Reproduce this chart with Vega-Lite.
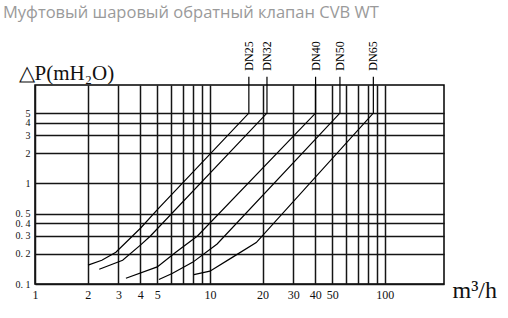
{
  "$schema": "https://vega.github.io/schema/vega-lite/v6.json",
  "width": 409,
  "height": 199,
  "autosize": {"type": "none"},
  "padding": {"left": 35, "top": 85, "right": 64, "bottom": 34},
  "background": "white",
  "title": {
    "text": "Муфтовый шаровый обратный клапан CVB WT",
    "anchor": "start",
    "frame": "group",
    "dx": -32,
    "offset": 7,
    "baseline": "alphabetic",
    "font": "Open Sans",
    "fontSize": 16.5,
    "fontWeight": "normal",
    "color": "#9a9a9a"
  },
  "config": {
    "view": {"stroke": "#000", "strokeWidth": 1.5},
    "axis": {
      "labelFont": "Liberation Serif",
      "labelFontSize": 10,
      "labelColor": "#111",
      "titleFont": "Liberation Serif",
      "titleFontWeight": "normal",
      "titleColor": "#111",
      "grid": true,
      "gridColor": "#151515",
      "gridWidth": 1.5,
      "gridOpacity": 1,
      "ticks": false,
      "domain": false,
      "labelOverlap": false,
      "labelFlush": false,
      "labelBound": false
    }
  },
  "datasets": {
    "curves": [
      {"series": "DN25", "i": 1, "q": 2.01, "dp": 0.154},
      {"series": "DN25", "i": 2, "q": 2.41, "dp": 0.172},
      {"series": "DN25", "i": 3, "q": 2.9, "dp": 0.207},
      {"series": "DN25", "i": 4, "q": 3.61, "dp": 0.3},
      {"series": "DN25", "i": 5, "q": 4.02, "dp": 0.36},
      {"series": "DN25", "i": 6, "q": 5.07, "dp": 0.56},
      {"series": "DN25", "i": 7, "q": 16.7, "dp": 5},
      {"series": "DN25", "i": 8, "q": 16.7, "dp": 11.5},
      {"series": "DN32", "i": 1, "q": 2.33, "dp": 0.14},
      {"series": "DN32", "i": 2, "q": 3.17, "dp": 0.172},
      {"series": "DN32", "i": 3, "q": 4.02, "dp": 0.245},
      {"series": "DN32", "i": 4, "q": 4.57, "dp": 0.3},
      {"series": "DN32", "i": 5, "q": 21.2, "dp": 5},
      {"series": "DN32", "i": 6, "q": 21.2, "dp": 11.5},
      {"series": "DN40", "i": 1, "q": 3.31, "dp": 0.114},
      {"series": "DN40", "i": 2, "q": 5.0, "dp": 0.148},
      {"series": "DN40", "i": 3, "q": 6.38, "dp": 0.207},
      {"series": "DN40", "i": 4, "q": 8.49, "dp": 0.3},
      {"series": "DN40", "i": 5, "q": 40.2, "dp": 5},
      {"series": "DN40", "i": 6, "q": 40.2, "dp": 11.5},
      {"series": "DN50", "i": 1, "q": 5.11, "dp": 0.111},
      {"series": "DN50", "i": 2, "q": 6.08, "dp": 0.127},
      {"series": "DN50", "i": 3, "q": 8.0, "dp": 0.165},
      {"series": "DN50", "i": 4, "q": 11.0, "dp": 0.25},
      {"series": "DN50", "i": 5, "q": 55.4, "dp": 5},
      {"series": "DN50", "i": 6, "q": 55.4, "dp": 11.5},
      {"series": "DN65", "i": 1, "q": 8.1, "dp": 0.124},
      {"series": "DN65", "i": 2, "q": 10.0, "dp": 0.134},
      {"series": "DN65", "i": 3, "q": 13.5, "dp": 0.185},
      {"series": "DN65", "i": 4, "q": 18.4, "dp": 0.258},
      {"series": "DN65", "i": 5, "q": 86.0, "dp": 5},
      {"series": "DN65", "i": 6, "q": 86.0, "dp": 11.5}
    ],
    "labels": [
      {"series": "DN25", "q": 16.7, "dp": 11.5},
      {"series": "DN32", "q": 21.2, "dp": 11.5},
      {"series": "DN40", "q": 40.2, "dp": 11.5},
      {"series": "DN50", "q": 55.4, "dp": 11.5},
      {"series": "DN65", "q": 86.0, "dp": 11.5}
    ]
  },
  "layer": [
    {
      "data": {"name": "curves"},
      "mark": {"type": "line", "color": "#000", "strokeWidth": 1.2},
      "encoding": {
        "x": {
          "field": "q",
          "type": "quantitative",
          "scale": {"type": "log", "domain": [1, 218], "nice": false},
          "axis": {
            "values": [1, 2, 3, 4, 5, 6, 7, 8, 9, 10, 20, 30, 40, 50, 60, 70, 80, 90, 100],
            "format": "~g",
            "labelExpr": "indexof([1, 2, 3, 4, 5, 10, 20, 30, 40, 50, 100], datum.value) >= 0 ? datum.label : ''",
            "labelPadding": 5,
            "labelFontSize": 12,
            "title": "m³/h",
            "titleFontSize": 24,
            "titleAlign": "left",
            "titleBaseline": "alphabetic",
            "titleX": 417,
            "titleY": 13
          }
        },
        "y": {
          "field": "dp",
          "type": "quantitative",
          "scale": {"type": "log", "domain": [0.1, 9.5], "nice": false},
          "axis": {
            "values": [0.1, 0.2, 0.3, 0.4, 0.5, 1, 2, 3, 4, 5],
            "format": "~g",
            "labelExpr": "replace(datum.label, '.', '. ')",
            "labelPadding": 5,
            "title": "△P(mH₂O)",
            "titleFontSize": 21,
            "titleAngle": 0,
            "titleAlign": "left",
            "titleBaseline": "alphabetic",
            "titleX": -17,
            "titleY": -6
          }
        },
        "detail": {"field": "series"},
        "order": {"field": "i"}
      }
    },
    {
      "data": {"name": "labels"},
      "mark": {
        "type": "text",
        "angle": 270,
        "align": "left",
        "baseline": "middle",
        "dx": 6,
        "font": "Liberation Serif",
        "fontSize": 12,
        "color": "#000"
      },
      "encoding": {
        "x": {"field": "q", "type": "quantitative"},
        "y": {"field": "dp", "type": "quantitative"},
        "text": {"field": "series"}
      }
    }
  ]
}
